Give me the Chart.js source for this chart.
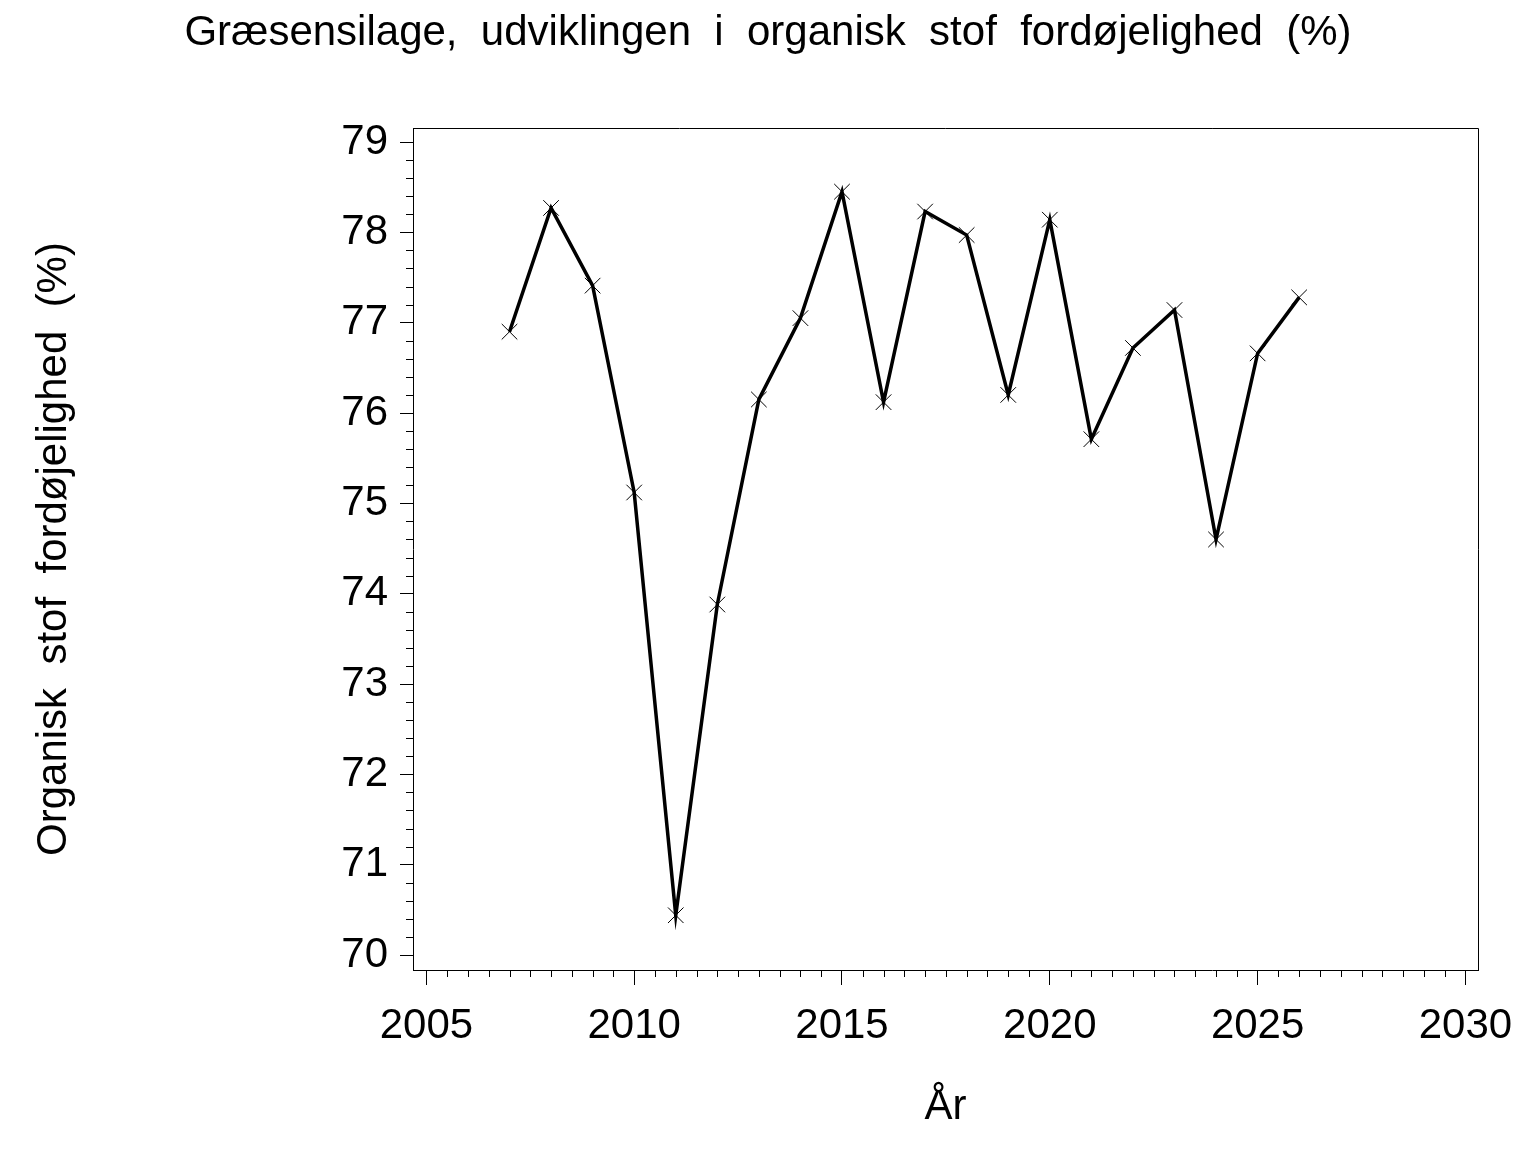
<!DOCTYPE html>
<html>
<head>
<meta charset="utf-8">
<script src="https://cdn.jsdelivr.net/npm/chart.js@4.4.1/dist/chart.umd.min.js"></script>
<style>
  html, body { margin: 0; padding: 0; background: #ffffff; }
  #wrap { width: 1536px; height: 1152px; }
</style>
</head>
<body>
<div id="wrap"><canvas id="c" width="1536" height="1152"></canvas></div>
<script>
// ---- data ----
const years = [2007, 2008, 2009, 2010, 2011, 2012, 2013, 2014, 2015, 2016,
               2017, 2018, 2019, 2020, 2021, 2022, 2023, 2024, 2025, 2026];
const digestibility = [76.90, 78.27, 77.41, 75.12, 70.44, 73.88, 76.15, 77.05, 78.45, 76.12,
                       78.23, 77.97, 76.20, 78.14, 75.71, 76.72, 77.14, 74.60, 76.66, 77.28];
const xTickValues = [2005, 2010, 2015, 2020, 2025, 2030];
const yTickValues = [70, 71, 72, 73, 74, 75, 76, 77, 78, 79];
const chartTitle = 'Græsensilage,  udviklingen  i  organisk  stof  fordøjelighed  (%)';
const xAxisTitle = 'År';
const yAxisTitle = 'Organisk  stof  fordøjelighed  (%)';

// ---- layout constants ----
const FONT = '"Liberation Sans", Arial, Helvetica, sans-serif';
const X_MIN = 2004.678, X_MAX = 2030.303;
const Y_MIN = 69.834, Y_MAX = 79.155;
const X_MINOR_STEP = 0.5, Y_MINOR_STEP = 0.2;

const framePlugin = {
  id: 'frameAndMinorTicks',
  afterDraw(chart) {
    const { ctx, chartArea: a, scales } = chart;
    const xs = scales.x, ys = scales.y;
    ctx.save();
    ctx.strokeStyle = '#000';
    ctx.lineWidth = 1;
    // top and right frame lines
    ctx.beginPath();
    ctx.moveTo(Math.round(a.left), Math.round(a.top) + 0.5);
    ctx.lineTo(Math.round(a.right) + 0.5, Math.round(a.top) + 0.5);
    ctx.lineTo(Math.round(a.right) + 0.5, Math.round(a.bottom));
    ctx.stroke();
    // minor ticks
    ctx.beginPath();
    const x0 = xTickValues[0], x1 = xTickValues[xTickValues.length - 1];
    const nx = Math.round((x1 - x0) / X_MINOR_STEP);
    for (let i = 0; i <= nx; i++) {
      const v = x0 + i * X_MINOR_STEP;
      if (xTickValues.includes(v)) continue;
      const px = Math.round(xs.getPixelForValue(v)) + 0.5;
      ctx.moveTo(px, a.bottom);
      ctx.lineTo(px, a.bottom + 7);
    }
    const y0 = yTickValues[0], y1 = yTickValues[yTickValues.length - 1];
    const ny = Math.round((y1 - y0) / Y_MINOR_STEP);
    for (let i = 0; i <= ny; i++) {
      if (i % Math.round(1 / Y_MINOR_STEP) === 0) continue;
      const v = y0 + i * Y_MINOR_STEP;
      const py = Math.round(ys.getPixelForValue(v)) + 0.5;
      ctx.moveTo(a.left - 7, py);
      ctx.lineTo(a.left, py);
    }
    ctx.stroke();
    ctx.restore();
  }
};

Chart.defaults.font.family = FONT;
Chart.defaults.color = '#000';

new Chart(document.getElementById('c'), {
  type: 'line',
  data: {
    datasets: [{
      data: years.map((yr, i) => ({ x: yr, y: digestibility[i] })),
      borderColor: '#000',
      borderWidth: 3.5,
      tension: 0,
      fill: false,
      pointStyle: 'crossRot',
      pointRadius: 11,
      pointBorderWidth: 1,
      pointBorderColor: '#000',
      pointBackgroundColor: '#000',
      clip: false
    }]
  },
  options: {
    responsive: false,
    animation: false,
    devicePixelRatio: 1,
    layout: { padding: { left: 0, right: 0, top: 0, bottom: 0 } },
    plugins: {
      legend: { display: false },
      tooltip: { enabled: false },
      title: {
        display: true,
        text: chartTitle,
        color: '#000',
        font: { family: FONT, size: 42, weight: 'normal', lineHeight: 1.2 },
        padding: { top: 8, bottom: 69.6 }
      }
    },
    scales: {
      x: {
        type: 'linear',
        position: 'bottom',
        min: X_MIN,
        max: X_MAX,
        afterBuildTicks: (s) => { s.ticks = xTickValues.map(v => ({ value: v })); },
        afterFit: (s) => { s.height = 182; },
        ticks: {
          color: '#000',
          font: { family: FONT, size: 42 },
          padding: 16,
          maxRotation: 0,
          autoSkip: false,
          callback: (v) => String(v)
        },
        grid: { drawOnChartArea: false, drawTicks: true, tickLength: 15, color: '#000', lineWidth: 1 },
        border: { display: true, color: '#000', width: 1 },
        title: {
          display: true,
          text: xAxisTitle,
          color: '#000',
          font: { family: FONT, size: 42, lineHeight: 1.2 },
          padding: { top: 0, bottom: 19 }
        }
      },
      y: {
        type: 'linear',
        position: 'left',
        min: Y_MIN,
        max: Y_MAX,
        afterBuildTicks: (s) => { s.ticks = yTickValues.map(v => ({ value: v })); },
        afterFit: (s) => { s.width = 413; },
        ticks: {
          color: '#000',
          font: { family: FONT, size: 42 },
          padding: 12,
          autoSkip: false,
          callback: (v) => String(v)
        },
        grid: { drawOnChartArea: false, drawTicks: true, tickLength: 13, color: '#000', lineWidth: 1 },
        border: { display: true, color: '#000', width: 1 },
        title: {
          display: true,
          text: yAxisTitle,
          color: '#000',
          font: { family: FONT, size: 42, lineHeight: 1.2 },
          padding: { top: 29, bottom: 0 }
        }
      },
      yRight: {
        type: 'linear',
        position: 'right',
        min: Y_MIN,
        max: Y_MAX,
        afterFit: (s) => { s.width = 58; },
        ticks: { display: false },
        grid: { display: false, drawOnChartArea: false, drawTicks: false },
        border: { display: false },
        title: { display: false }
      }
    }
  },
  plugins: [framePlugin]
});
</script>
</body>
</html>
